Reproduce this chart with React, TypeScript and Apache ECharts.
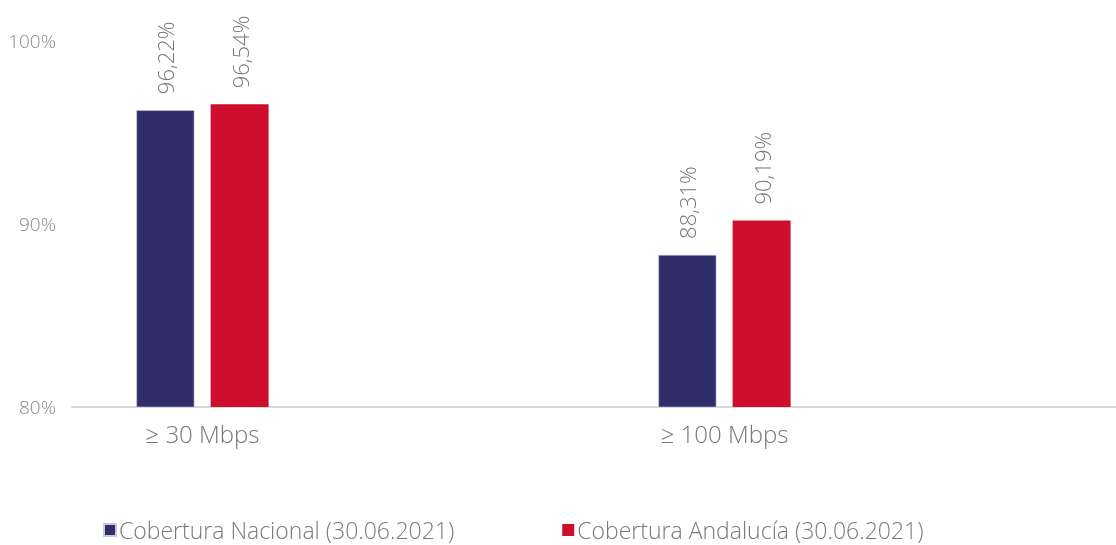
import React, { useEffect, useRef } from "react";
import * as echarts from "echarts";

const categories = ["≥ 30 Mbps", "", "≥ 100 Mbps", ""];
const nacional = [96.22, null, 88.31, null];
const andalucia = [96.54, null, 90.19, null];
const seriesNames = ["Cobertura Nacional (30.06.2021)", "Cobertura Andalucía (30.06.2021)"];
const yTicks = [80, 90, 100];

const FONT = "'Open Sans', Lato, sans-serif";

export default function App() {
  const ref = useRef<HTMLDivElement>(null);
  useEffect(() => {
    if (!ref.current) return;
    const chart = echarts.init(ref.current, undefined, { renderer: "svg" });
    const label = {
      show: true,
      position: "top",
      rotate: 90,
      align: "left",
      verticalAlign: "middle",
      distance: 16,
      color: "#767676",
      fontSize: 22,
      fontFamily: FONT,
      fontWeight: 300,
      formatter: (p: any) => p.value.toFixed(2).replace(".", ",") + "%",
    };
    chart.setOption({
      animation: false,
      textStyle: { fontFamily: FONT },
      grid: { left: 72, width: 1050, top: 41, bottom: 138, containLabel: false },
      xAxis: {
        type: "category",
        data: categories,
        axisLine: { show: true, lineStyle: { color: "#d9d9d9", width: 2 } },
        axisTick: { show: false },
        axisLabel: { color: "#767676", fontSize: 24, fontFamily: FONT, fontWeight: 300, margin: 14 },
      },
      yAxis: {
        type: "value",
        min: yTicks[0],
        max: yTicks[yTicks.length - 1],
        interval: 10,
        splitLine: { show: false },
        axisLine: { show: false },
        axisTick: { show: false },
        axisLabel: {
          color: "#8a8a8a",
          fontSize: 19,
          fontFamily: FONT,
          fontWeight: 300,
          margin: 16,
          formatter: (v: number) => v + "%",
        },
      },
      legend: {
        left: 103,
        top: 518,
        padding: 0,
        itemWidth: 12,
        itemHeight: 12,
        itemGap: 108,
        icon: "rect",
        textStyle: {
          color: "#7a7a7a",
          fontSize: 23,
          lineHeight: 24,
          fontFamily: FONT,
          fontWeight: 300,
          padding: [0, 0, 0, -2],
        },
        data: seriesNames,
      },
      series: [
        {
          name: seriesNames[0],
          type: "bar",
          data: nacional,
          barWidth: 58,
          barGap: "28%",
          itemStyle: { color: "#2f2e6b", borderColor: "#c8c8dc", borderWidth: 0.6 },
          label,
        },
        {
          name: seriesNames[1],
          type: "bar",
          data: andalucia,
          barWidth: 58,
          barGap: "28%",
          itemStyle: { color: "#ce0e2d" },
          label,
        },
      ],
    });
    return () => chart.dispose();
  }, []);
  return (
    <div
      ref={ref}
      style={{ position: "fixed", left: 0, top: 0, width: 1116, height: 545 }}
    />
  );
}
